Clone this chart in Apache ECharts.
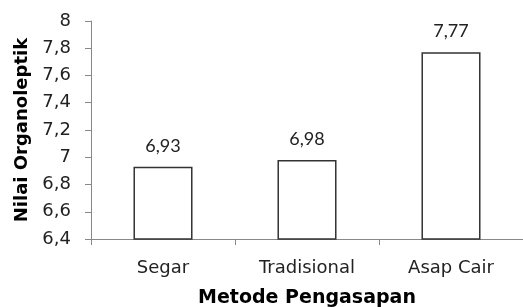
<!DOCTYPE html>
<html>
<head>
<meta charset="utf-8">
<script src="https://cdn.jsdelivr.net/npm/echarts@6/dist/echarts.min.js"></script>
<style>
  html, body { margin: 0; padding: 0; background: #fff; }
  #chart { width: 523px; height: 307px; }
</style>
</head>
<body>
<div id="chart"></div>
<script>
const categories = ['Segar', 'Tradisional', 'Asap Cair'];
const values = [6.93, 6.98, 7.77];
const yMin = 6.4;
const yMax = 8;
const yStep = 0.2;

const toComma = (v) => String(+v.toFixed(2)).replace('.', ',');

const chart = echarts.init(document.getElementById('chart'));
chart.setOption({
  animation: false,
  grid: { left: 91, right: 0, top: 21, bottom: 68, containLabel: false, outerBoundsMode: 'none' },
  xAxis: {
    type: 'category',
    data: categories,
    name: 'Metode Pengasapan',
    nameLocation: 'middle',
    nameGap: 50,
    nameTextStyle: { fontFamily: 'DejaVu Sans', fontSize: 19, fontWeight: 'bold', color: '#000' },
    axisLine: { lineStyle: { color: '#888', width: 1 } },
    axisTick: { show: true, length: 6, lineStyle: { color: '#888' } },
    axisLabel: { fontFamily: 'DejaVu Sans', fontSize: 18, color: '#222', margin: 20 },
  },
  yAxis: {
    type: 'value',
    min: yMin,
    max: yMax,
    interval: yStep,
    name: 'Nilai Organoleptik',
    nameLocation: 'middle',
    nameGap: 56,
    nameTextStyle: { fontFamily: 'DejaVu Sans', fontSize: 18, fontWeight: 'bold', color: '#000' },
    axisLine: { show: true, lineStyle: { color: '#888', width: 1 } },
    axisTick: { show: true, length: 6, lineStyle: { color: '#888' } },
    splitLine: { show: false },
    axisLabel: {
      fontFamily: 'DejaVu Sans', fontSize: 18, color: '#222', margin: 20,
      formatter: toComma,
    },
  },
  series: [{
    type: 'bar',
    data: values,
    barWidth: '41%',
    itemStyle: { color: '#fff', borderColor: '#333', borderWidth: 1.5 },
    label: {
      show: true,
      position: 'top',
      distance: 12,
      fontFamily: 'Lato',
      fontSize: 18,
      color: '#222',
      formatter: (p) => toComma(p.value),
    },
  }],
});
</script>
</body>
</html>
